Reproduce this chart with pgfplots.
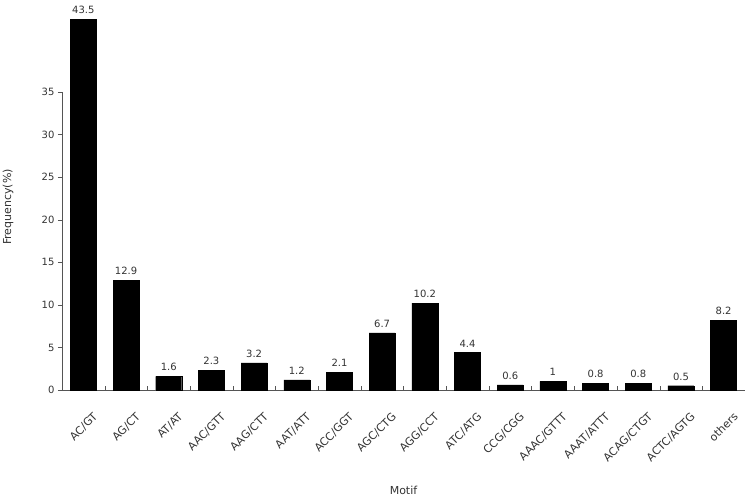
\documentclass[border=0pt]{standalone}
\usepackage{fontspec}
\setmainfont{DejaVu Sans}
\usepackage{pgfplots}
\pgfplotsset{compat=1.18}
\definecolor{axgray}{HTML}{555555}
\definecolor{txtgray}{HTML}{333333}
\begin{document}
\begin{tikzpicture}
\begin{axis}[
  at={(0,0)}, anchor=south west,
  scale only axis, width=683pt, height=298pt,
  xmin=-0.5, xmax=15.5, ymin=0, ymax=35,
  clip=false,
  axis x line*=bottom, axis y line*=left,
  x axis line style={-, axgray}, y axis line style={-, axgray},
  ybar, bar width=26pt,
  xtick={0,...,15},
  xticklabels={AC/GT,AG/CT,AT/AT,AAC/GTT,AAG/CTT,AAT/ATT,ACC/GGT,AGC/CTG,AGG/CCT,ATC/ATG,CCG/CGG,AAAC/GTTT,AAAT/ATTT,ACAG/CTGT,ACTC/AGTG,others},
  major x tick style={draw=none},
  minor xtick={0.5,1.5,...,14.5},
  minor x tick style={axgray},
  minor tick length=4pt,
  ytick={0,5,...,35},
  y tick style={axgray},
  major tick length=4pt,
  tick align=outside,
  xtick align=inside,
  /pgf/number format/assume math mode=true,
  tick label style={font=\fontsize{10}{11}\selectfont, text=txtgray},
  xticklabel style={font=\fontsize{11}{12}\selectfont, xshift=9pt, yshift=-20pt, rotate=45, anchor=north east, inner sep=1pt},
  nodes near coords,
  nodes near coords style={font=\fontsize{10}{11}\selectfont, text=txtgray, /pgf/number format/assume math mode=true, yshift=2pt},
  ylabel={Frequency(\%)},
  xlabel={Motif},
  label style={font=\fontsize{11}{12}\selectfont, text=txtgray},
  ylabel style={at={(axis description cs:-0.079,0.614)}, anchor=center},
  xlabel style={at={(axis description cs:0.5,-0.336)}, anchor=center},
]
\addplot[fill=black, draw=black] coordinates {
(0,43.5) (1,12.9) (2,1.6) (3,2.3) (4,3.2) (5,1.2) (6,2.1) (7,6.7)
(8,10.2) (9,4.4) (10,0.6) (11,1) (12,0.8) (13,0.8) (14,0.5) (15,8.2)};
\end{axis}
\pgfresetboundingbox
\path[use as bounding box] (-62pt,-113pt) rectangle (686pt,390pt);
\end{tikzpicture}
\end{document}
